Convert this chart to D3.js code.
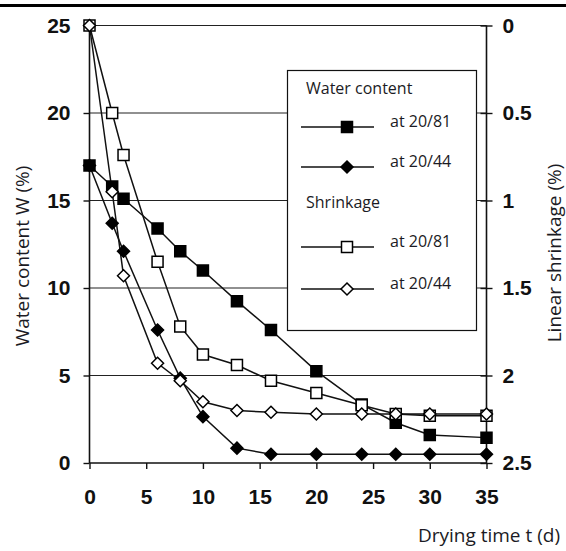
<!DOCTYPE html>
<html>
<head>
<meta charset="utf-8">
<script src="https://cdn.jsdelivr.net/npm/d3@7"></script>
<style>
  html, body { margin: 0; padding: 0; background: #fff; }
  svg { display: block; }
  .tick-label { font-family: "Liberation Sans", Arial, sans-serif; font-weight: bold; font-size: 21px; fill: #111; }
  .title { font-family: "Open Sans", "Noto Sans", sans-serif; font-size: 19px; fill: #1b1b24; }
  .leg { font-family: "Open Sans", "Noto Sans", sans-serif; font-size: 16px; fill: #1b1b24; }
</style>
</head>
<body>
<svg id="chart" width="566" height="551"></svg>
<script>
// ---- data ----
const timeWater81 = [0, 2, 3, 6, 8, 10, 13, 16, 20, 24, 27, 30, 35];
const water81 = [17, 15.8, 15.1, 13.4, 12.1, 11.0, 9.25, 7.6, 5.25, 3.35, 2.3, 1.6, 1.45];
const timeWater44 = [0, 2, 3, 6, 8, 10, 13, 16, 20, 24, 27, 30, 35];
const water44 = [17, 13.7, 12.1, 7.6, 4.85, 2.65, 0.85, 0.5, 0.5, 0.5, 0.5, 0.5, 0.5];
const timeShrink81 = [0, 2, 3, 6, 8, 10, 13, 16, 20, 24, 27, 30, 35];
const shrink81 = [0, 0.5, 0.74, 1.35, 1.72, 1.88, 1.94, 2.03, 2.1, 2.17, 2.22, 2.23, 2.23];
const timeShrink44 = [0, 2, 3, 6, 8, 10, 13, 16, 20, 24, 27, 30, 35];
const shrink44 = [0, 0.95, 1.43, 1.93, 2.03, 2.15, 2.2, 2.21, 2.22, 2.22, 2.22, 2.22, 2.22];
const xTicks = [0, 5, 10, 15, 20, 25, 30, 35];
const yTicks = [0, 5, 10, 15, 20, 25];
const y2Ticks = [0, 0.5, 1, 1.5, 2, 2.5];
const y2TickLabels = ["0", "0.5", "1", "1.5", "2", "2.5"];
const legendHeaders = ["Water content", "Shrinkage"];
const legendLabels = ["at 20/81", "at 20/44", "at 20/81", "at 20/44"];

const svg = d3.select("#chart");
const x = d3.scaleLinear().domain([0, 35]).range([89.5, 486.5]);
const y = d3.scaleLinear().domain([0, 25]).range([463, 25.5]);
const y2 = d3.scaleLinear().domain([0, 2.5]).range([25.5, 463]);

// top rule
svg.append("rect").attr("x", 0).attr("y", 4).attr("width", 566).attr("height", 3).attr("fill", "#000");

// gridlines
svg.append("g").selectAll("line").data(yTicks.filter(d => d > 0)).join("line")
  .attr("x1", x(0)).attr("x2", x(35)).attr("y1", d => y(d)).attr("y2", d => y(d))
  .attr("stroke", "#222").attr("stroke-width", 1.2);

// axes
const gx = svg.append("g").attr("transform", `translate(0,${y(0)})`)
  .call(d3.axisBottom(x).tickValues(xTicks).tickSize(6).tickPadding(20).tickFormat(d3.format("d")));
const gy = svg.append("g").attr("transform", `translate(${x(0)},0)`)
  .call(d3.axisLeft(y).tickValues(yTicks).tickSize(6).tickPadding(13).tickFormat(d3.format("d")));
const gy2 = svg.append("g").attr("transform", `translate(${x(35)},0)`)
  .call(d3.axisRight(y2).tickValues(y2Ticks).tickSize(6).tickPadding(10).tickFormat((d, i) => y2TickLabels[i]));
gy2.selectAll(".tick line").attr("x1", -6);
[gx, gy, gy2].forEach(g => {
  g.select(".domain").attr("stroke", "#111").attr("stroke-width", 1.6);
  g.selectAll(".tick line").attr("stroke", "#111").attr("stroke-width", 1.4);
  g.selectAll(".tick text").attr("class", "tick-label").attr("font-family", null).attr("font-size", null);
});
gx.select(".domain").attr("d", `M${x(0)},0H${x(35)}`);
gy.select(".domain").attr("d", `M0,${y(0)}V${y(25)}`);
gy2.select(".domain").attr("d", `M0,${y2(0)}V${y2(2.5)}`);

// legend box
const lg = svg.append("g");
lg.append("rect").attr("x", 287.5).attr("y", 70.5).attr("width", 189).attr("height", 260)
  .attr("fill", "#fff").attr("stroke", "#111").attr("stroke-width", 1.2);

// symbols
const squareDiamond = {
  draw(ctx, size) {
    const r = Math.sqrt(size) / 2;
    ctx.moveTo(0, -r); ctx.lineTo(r, 0); ctx.lineTo(0, r); ctx.lineTo(-r, 0); ctx.closePath();
  }
};
const sq = d3.symbol().type(d3.symbolSquare).size(121);
const dm = d3.symbol().type(squareDiamond).size(144);
const series = [
  { t: timeWater44, v: water44, sc: y, sym: dm, fill: "#000" },
  { t: timeWater81, v: water81, sc: y, sym: sq, fill: "#000" },
  { t: timeShrink81, v: shrink81, sc: y2, sym: sq, fill: "#fff" },
  { t: timeShrink44, v: shrink44, sc: y2, sym: dm, fill: "#fff" }
];
const line = d3.line();
series.forEach(s => {
  const pts = s.t.map((t, i) => [x(t), s.sc(s.v[i])]);
  svg.append("path").attr("d", line(pts)).attr("fill", "none").attr("stroke", "#111").attr("stroke-width", 1.5);
});
series.forEach(s => {
  const pts = s.t.map((t, i) => [x(t), s.sc(s.v[i])]);
  svg.append("g").selectAll("path").data(pts).join("path")
    .attr("d", s.sym).attr("transform", d => `translate(${d[0]},${d[1]})`)
    .attr("fill", s.fill).attr("stroke", "#000").attr("stroke-width", 1.5);
});

// legend entries
const legRows = [
  { y: 127, sym: sq, fill: "#000", label: legendLabels[0] },
  { y: 167, sym: dm, fill: "#000", label: legendLabels[1] },
  { y: 247, sym: sq, fill: "#fff", label: legendLabels[2] },
  { y: 289, sym: dm, fill: "#fff", label: legendLabels[3] }
];
lg.append("text").attr("class", "leg").attr("x", 306).attr("y", 94).text(legendHeaders[0]);
lg.append("text").attr("class", "leg").attr("x", 306).attr("y", 208).text(legendHeaders[1]);
legRows.forEach(r => {
  lg.append("line").attr("x1", 301).attr("x2", 374).attr("y1", r.y).attr("y2", r.y)
    .attr("stroke", "#111").attr("stroke-width", 1.5);
  lg.append("path").attr("d", r.sym).attr("transform", `translate(347,${r.y})`)
    .attr("fill", r.fill).attr("stroke", "#000").attr("stroke-width", 1.5);
  lg.append("text").attr("class", "leg").attr("x", 390).attr("y", r.y).text(r.label);
});

// axis titles
svg.append("text").attr("class", "title").attr("text-anchor", "middle")
  .attr("transform", "translate(29,256) rotate(-90)").text("Water content W (%)");
svg.append("text").attr("class", "title").attr("text-anchor", "middle")
  .attr("transform", "translate(561,253) rotate(-90)").text("Linear shrinkage (%)");
svg.append("text").attr("class", "title").attr("text-anchor", "end")
  .attr("x", 560).attr("y", 542).text("Drying time t (d)");
</script>
</body>
</html>
